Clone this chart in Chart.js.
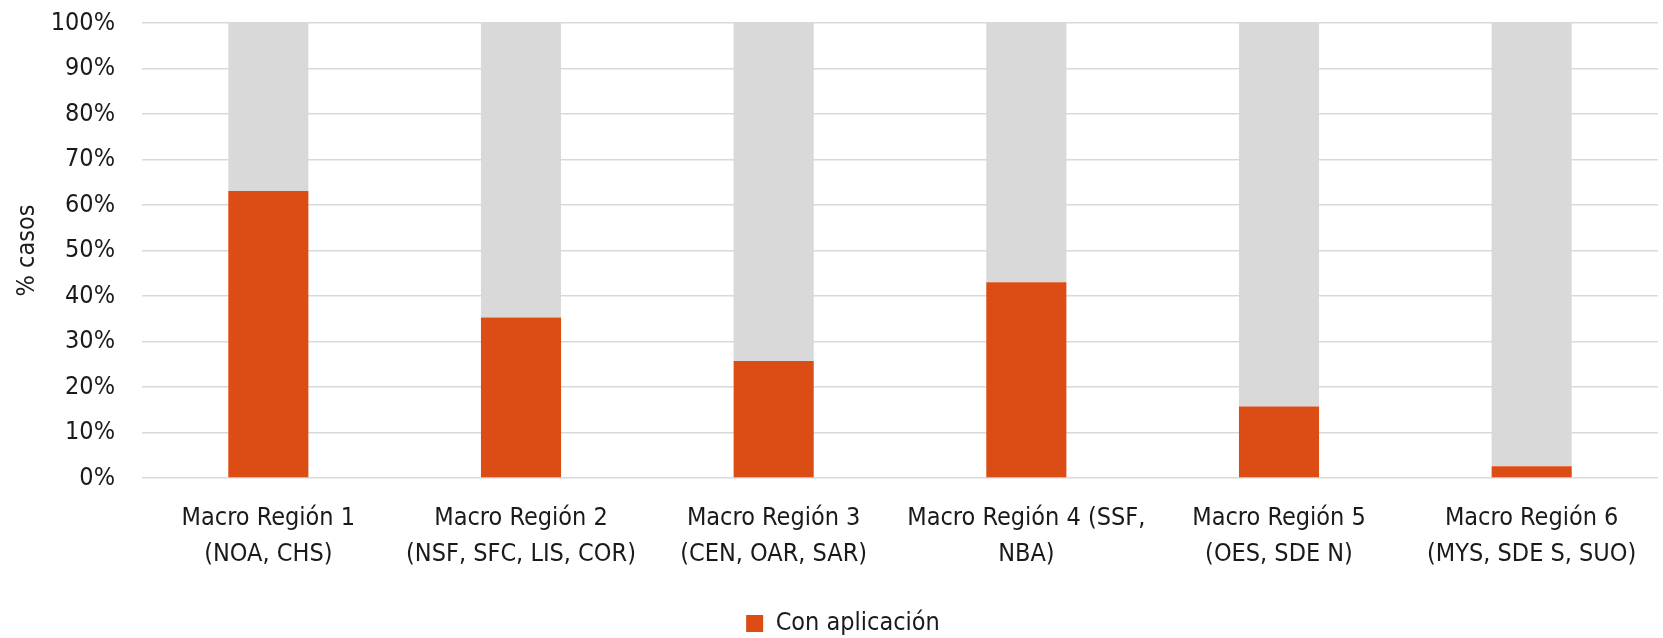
<!DOCTYPE html>
<html lang="es">
<head>
<meta charset="utf-8">
<title>% casos por macro región</title>
<script src="https://cdn.jsdelivr.net/npm/chart.js@4/dist/chart.umd.min.js"></script>
<style>
  html, body { margin:0; padding:0; background:#fff; overflow:hidden; }
  #wrap { width:1663px; height:638px; position:relative; }
</style>
</head>
<body>
<div id="wrap"><canvas id="chart"></canvas></div>
<script>
/* DATA */
const regions = [
  ["Macro Región 1", "(NOA, CHS)"],
  ["Macro Región 2", "(NSF, SFC, LIS, COR)"],
  ["Macro Región 3", "(CEN, OAR, SAR)"],
  ["Macro Región 4 (SSF,", "NBA)"],
  ["Macro Región 5", "(OES, SDE N)"],
  ["Macro Región 6", "(MYS, SDE S, SUO)"]
];
const conAplicacion = [63.1, 35.3, 25.7, 43.0, 15.7, 2.6];
const sinAplicacion = [36.9, 64.7, 74.3, 57.0, 84.3, 97.4];
const yTicks = [0, 10, 20, 30, 40, 50, 60, 70, 80, 90, 100];

/* STYLE */
const FONT = "'Liberation Sans Narrow', 'DejaVu Sans Condensed', 'Liberation Sans', sans-serif";
const FS = 25;
const RED = "#DC4C15";
const GREY = "#D9D9D9";
const INK = "#1a1a1a";

// move the legend a bit down and right once the layout is done
const legendShift = {
  id: "legendShift",
  afterLayout(chart){
    const lg = chart.legend;
    if(lg){ lg.top += 8; lg.bottom += 8; lg.left += 14; lg.right += 14; }
  }
};

const ctx = document.getElementById("chart").getContext("2d");
new Chart(ctx, {
  type: "bar",
  data: {
    labels: regions,
    datasets: [
      { label:"Con aplicación", data:conAplicacion, backgroundColor:RED },
      { label:"Sin aplicación", data:sinAplicacion, backgroundColor:GREY }
    ]
  },
  options: {
    responsive: true,
    maintainAspectRatio: false,
    animation: false,
    layout: { padding: { top: 23, right: 5, left: 0, bottom: 0 } },
    datasets: { bar: { categoryPercentage: 1, barPercentage: 0.317, borderWidth: 0 } },
    plugins: {
      legend: {
        position: "bottom",
        labels: {
          font: { family: FONT, size: FS },
          color: INK,
          boxWidth: 17,
          boxHeight: 17,
          padding: 4,
          filter: (item)=> item.datasetIndex === 0
        }
      },
      tooltip: { enabled: false }
    },
    scales: {
      x: {
        stacked: true,
        grid: { display: false },
        border: { display: false },
        ticks: {
          font: { family: FONT, size: FS, lineHeight: 1.45 },
          color: INK,
          padding: 14,
          maxRotation: 0,
          autoSkip: false
        },
        afterFit: (s)=>{ s.height = 121; }
      },
      y: {
        stacked: true,
        min: 0,
        max: 100,
        afterBuildTicks: (s)=>{ s.ticks = yTicks.map(v=>({ value:v })); },
        grid: { color: GREY, lineWidth: 1.5, drawTicks: false },
        border: { display: false },
        ticks: {
          font: { family: FONT, size: FS },
          color: INK,
          padding: 27,
          callback: (v)=> v + "%"
        },
        title: {
          display: true,
          text: "% casos",
          font: { family: FONT, size: FS },
          color: INK,
          padding: { top: 12, bottom: 0 }
        },
        // fixed axis width; tick padding should not push the plot down
        afterFit: (s)=>{ s.width = 142; s.paddingTop = 0; s.paddingBottom = 0; }
      }
    }
  },
  plugins: [legendShift]
});
</script>
</body>
</html>
